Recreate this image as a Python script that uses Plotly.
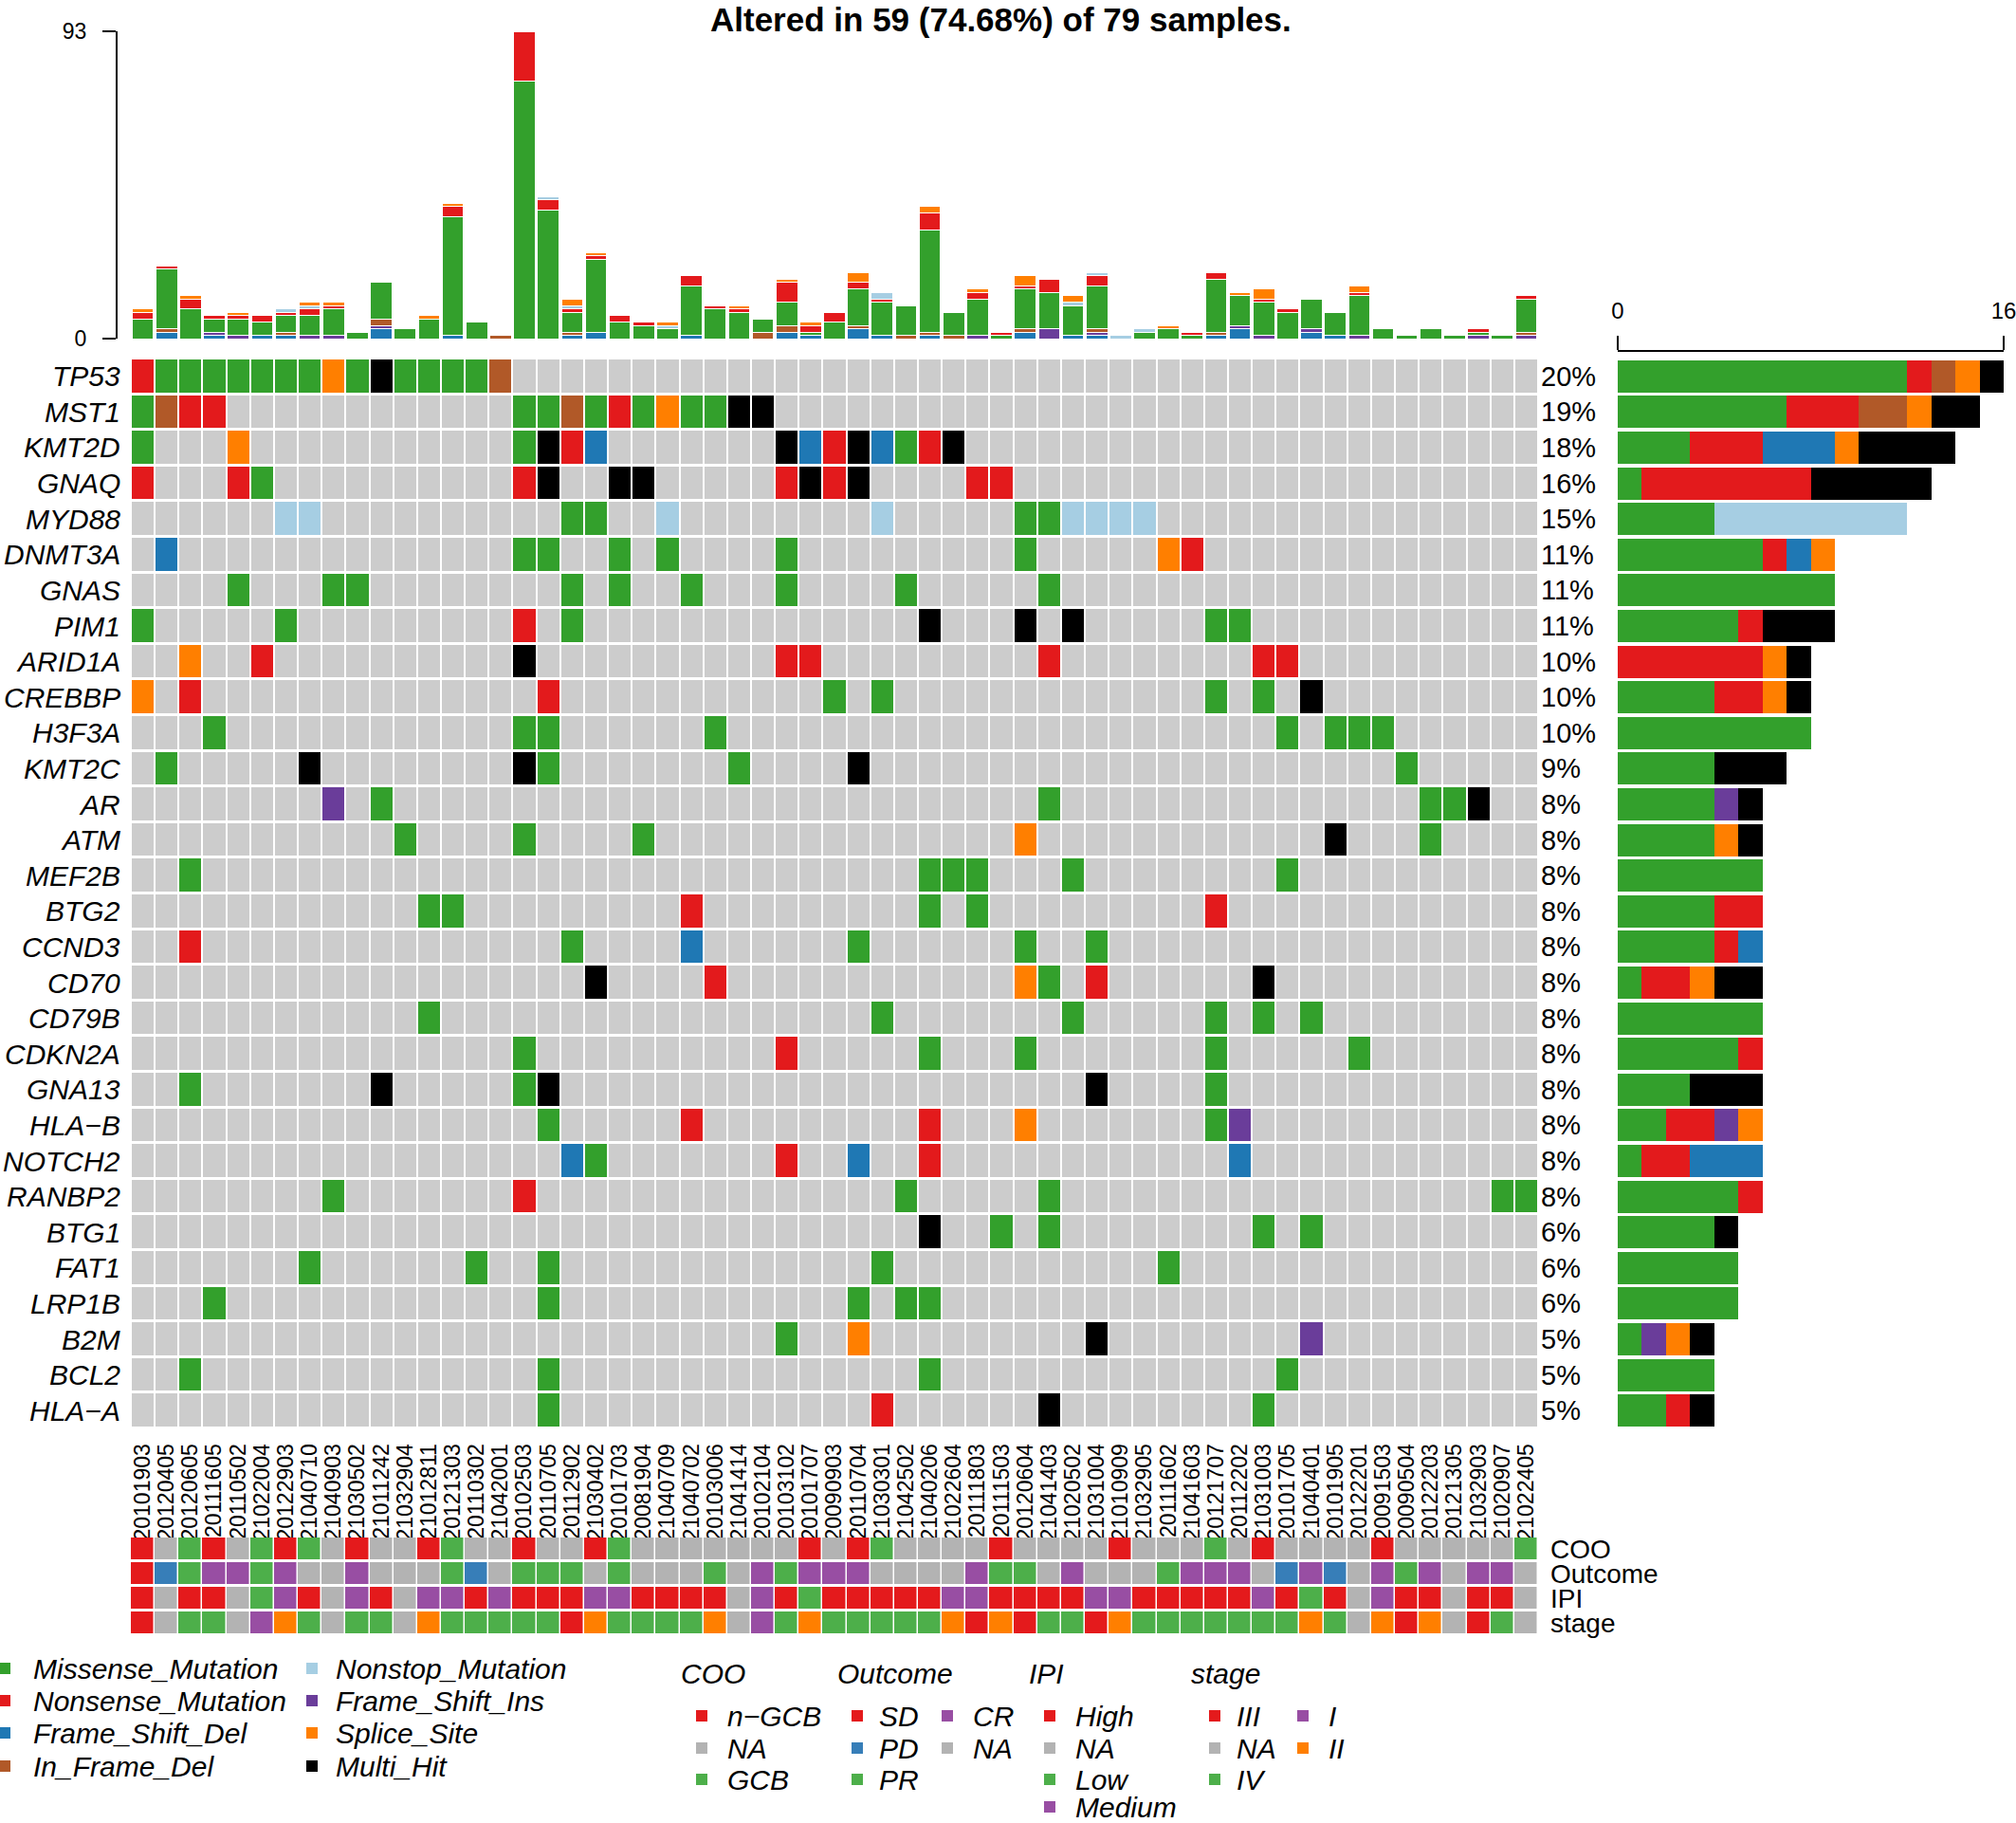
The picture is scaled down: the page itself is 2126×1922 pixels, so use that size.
import plotly.graph_objects as go

W, H = 2126, 1922
FONT = "Liberation Sans, Arial, Helvetica, sans-serif"
TOTAL_SAMPLES = 79

# ---- data ----------------------------------------------------------------
samples = [
    "20101903", "20120405", "20120605", "20111605", "20110502", "21022004",
    "20122903", "21040710", "21040903", "21030502", "21011242", "21032904",
    "21012811", "20121303", "20110302", "21042001", "20102503", "20110705",
    "20112902", "21030402", "20101703", "20081904", "21040709", "21040702",
    "20103006", "21041414", "20102104", "20103102", "20101707", "20090903",
    "20110704", "21030301", "21042502", "21040206", "21022604", "20111803",
    "20111503", "20120604", "21041403", "21020502", "21031004", "21010909",
    "21032905", "20111602", "21041603", "20121707", "20112202", "21031003",
    "20101705", "21040401", "20101905", "20122201", "20091503", "20090504",
    "20122203", "20121305", "21032903", "21020907", "21022405",
]

genes = [
    "TP53", "MST1", "KMT2D", "GNAQ", "MYD88", "DNMT3A", "GNAS", "PIM1",
    "ARID1A", "CREBBP", "H3F3A", "KMT2C", "AR", "ATM", "MEF2B", "BTG2",
    "CCND3", "CD70", "CD79B", "CDKN2A", "GNA13", "HLA-B", "NOTCH2", "RANBP2",
    "BTG1", "FAT1", "LRP1B", "B2M", "BCL2", "HLA-A",
]

# sample index + variant code  (M missense, N nonsense, D frame-shift del,
# I in-frame del, T nonstop, F frame-shift ins, S splice site, X multi hit)
gene_hits = [
    "0N 1M 2M 3M 4M 5M 6M 7M 8S 9M 10X 11M 12M 13M 14M 15I",
    "0M 1I 2N 3N 16M 17M 18I 19M 20N 21M 22S 23M 24M 25X 26X",
    "0M 4S 16M 17X 18N 19D 27X 28D 29N 30X 31D 32M 33N 34X",
    "0N 4N 5M 16N 17X 20X 21X 27N 28X 29N 30X 35N 36N",
    "6T 7T 18M 19M 22T 31T 37M 38M 39T 40T 41T 42T",
    "1D 16M 17M 20M 22M 27M 37M 43S 44N",
    "4M 8M 9M 18M 20M 23M 27M 32M 38M",
    "0M 6M 16N 18M 33X 37X 39X 45M 46M",
    "2S 5N 16X 27N 28N 38N 47N 48N",
    "0S 2N 17N 29M 31M 45M 47M 49X",
    "3M 16M 17M 24M 48M 50M 51M 52M",
    "1M 7X 16X 17M 25M 30X 53M",
    "8F 10M 38M 54M 55M 56X",
    "11M 16M 21M 37S 50X 54M",
    "2M 33M 34M 35M 39M 48M",
    "12M 13M 23N 33M 35M 45N",
    "2N 18M 23D 30M 37M 40M",
    "19X 24N 37S 38M 40N 47X",
    "12M 31M 39M 45M 47M 49M",
    "16M 27N 33M 37M 45M 51M",
    "2M 10X 16M 17X 40X 45M",
    "17M 23N 33N 37S 45M 46F",
    "18D 19M 27N 30D 33N 46D",
    "8M 16N 32M 38M 57M 58M",
    "33X 36M 38M 47M 49M",
    "7M 14M 17M 31M 43M",
    "3M 17M 30M 32M 33M",
    "27M 30S 40X 49F",
    "2M 17M 33M 48M",
    "17M 31N 38X 47M",
]

# mutations per sample (top bar plot), by class
tmb_frame_shift_del = [0, 2, 0, 1, 0, 1, 1, 0, 0, 0, 3, 0, 0, 1, 0, 0, 0, 0, 1, 2,
                       0, 0, 0, 1, 0, 0, 0, 2, 1, 0, 3, 1, 0, 1, 0, 0, 0, 2, 0, 1,
                       1, 0, 0, 0, 0, 1, 3, 0, 0, 2, 1, 0, 0, 0, 0, 0, 0, 0, 0]
tmb_frame_shift_ins = [0, 0, 0, 1, 1, 0, 0, 1, 1, 0, 1, 0, 0, 0, 0, 0, 0, 0, 0, 0,
                       0, 0, 0, 0, 0, 0, 0, 0, 0, 0, 0, 0, 0, 0, 0, 1, 0, 0, 3, 0,
                       1, 0, 0, 0, 0, 0, 1, 1, 0, 1, 0, 1, 0, 0, 0, 0, 1, 0, 1]
tmb_in_frame_del = [0, 1, 0, 0, 0, 0, 1, 0, 0, 0, 2, 0, 0, 0, 0, 1, 0, 0, 1, 0,
                    0, 0, 0, 0, 0, 0, 2, 2, 0, 0, 1, 0, 1, 1, 1, 0, 0, 1, 0, 0,
                    1, 0, 0, 0, 0, 1, 0, 0, 0, 0, 0, 0, 0, 0, 0, 0, 0, 0, 1]
tmb_missense = [6, 18, 9, 4, 5, 4, 5, 6, 8, 2, 11, 3, 6, 36, 5, 0, 78, 39, 6, 22,
                5, 4, 3, 15, 9, 8, 4, 7, 1, 5, 11, 10, 9, 31, 7, 11, 1, 12, 11, 9,
                13, 0, 2, 3, 1, 16, 9, 10, 8, 9, 7, 12, 3, 1, 3, 1, 1, 1, 10]
tmb_nonsense = [2, 1, 3, 1, 1, 2, 1, 2, 1, 0, 0, 0, 0, 3, 0, 0, 15, 3, 1, 1,
                2, 1, 0, 3, 1, 1, 0, 6, 2, 3, 2, 1, 0, 5, 0, 2, 1, 1, 4, 0,
                3, 0, 0, 0, 1, 2, 0, 1, 1, 0, 0, 1, 0, 0, 0, 0, 1, 0, 1]
tmb_nonstop = [0, 0, 0, 0, 0, 0, 1, 1, 0, 0, 0, 0, 0, 0, 0, 0, 0, 1, 1, 0,
               0, 0, 1, 0, 0, 0, 0, 0, 0, 0, 0, 2, 0, 0, 0, 0, 0, 0, 0, 1,
               1, 1, 1, 0, 0, 0, 0, 0, 0, 0, 0, 0, 0, 0, 0, 0, 0, 0, 0]
tmb_splice_site = [1, 0, 1, 0, 1, 0, 0, 1, 1, 0, 0, 0, 1, 1, 0, 0, 0, 0, 2, 1,
                   0, 0, 1, 0, 0, 1, 0, 1, 1, 0, 3, 0, 0, 2, 0, 1, 0, 3, 0, 2,
                   0, 0, 0, 1, 0, 0, 1, 3, 0, 0, 0, 2, 0, 0, 0, 0, 0, 0, 0]

# clinical annotation tracks
coo = ["n-GCB", "NA", "GCB", "n-GCB", "NA", "GCB", "n-GCB", "GCB", "NA", "n-GCB",
       "NA", "NA", "n-GCB", "GCB", "NA", "NA", "n-GCB", "NA", "NA", "n-GCB",
       "GCB", "NA", "NA", "NA", "NA", "NA", "NA", "NA", "n-GCB", "NA",
       "n-GCB", "GCB", "NA", "NA", "NA", "NA", "n-GCB", "NA", "NA", "NA",
       "NA", "n-GCB", "NA", "NA", "NA", "GCB", "NA", "n-GCB", "NA", "NA",
       "NA", "NA", "n-GCB", "NA", "NA", "NA", "NA", "NA", "GCB"]
outcome = ["SD", "PD", "PR", "CR", "CR", "PR", "CR", "NA", "NA", "CR",
           "NA", "NA", "NA", "PR", "PD", "NA", "PR", "PR", "PR", "NA",
           "PR", "NA", "NA", "NA", "PR", "NA", "CR", "PR", "CR", "CR",
           "CR", "NA", "NA", "NA", "NA", "CR", "PR", "PR", "NA", "CR",
           "NA", "NA", "NA", "PR", "CR", "CR", "CR", "NA", "PD", "CR",
           "PD", "NA", "CR", "PR", "CR", "NA", "CR", "CR", "NA"]
ipi = ["High", "NA", "High", "High", "NA", "Low", "Medium", "High", "NA", "Medium",
       "High", "NA", "Medium", "Medium", "High", "Medium", "High", "High", "High", "Medium",
       "Medium", "High", "High", "High", "High", "NA", "Medium", "High", "Low", "High",
       "High", "High", "High", "High", "Medium", "Medium", "High", "High", "High", "High",
       "Medium", "Medium", "High", "High", "High", "High", "High", "Medium", "High", "Low",
       "High", "NA", "Medium", "High", "High", "NA", "High", "High", "NA"]
stage = ["III", "NA", "IV", "IV", "NA", "I", "II", "IV", "NA", "IV",
         "IV", "NA", "II", "IV", "IV", "IV", "IV", "IV", "III", "II",
         "IV", "IV", "IV", "IV", "II", "NA", "I", "IV", "II", "IV",
         "IV", "IV", "IV", "IV", "II", "III", "II", "III", "IV", "IV",
         "III", "II", "IV", "IV", "IV", "IV", "IV", "IV", "IV", "II",
         "IV", "NA", "II", "III", "II", "NA", "III", "IV", "NA"]

# ---- styling -------------------------------------------------------------
vc_names = ["Missense_Mutation", "Nonsense_Mutation", "Frame_Shift_Del", "In_Frame_Del",
            "Nonstop_Mutation", "Frame_Shift_Ins", "Splice_Site", "Multi_Hit"]
vc_codes = ["M", "N", "D", "I", "T", "F", "S", "X"]
vc_colors = ["#33A02C", "#E31A1C", "#1F78B4", "#B15928",
             "#A6CEE3", "#6A3D9A", "#FF7F00", "#000000"]
vc_color = dict(zip(vc_codes, vc_colors))
BG = "#CCCCCC"

RED, BLUE, GREEN, PURPLE, ORANGE, NAGRAY = (
    "#E41A1C", "#377EB8", "#4DAF4A", "#984EA3", "#FF7F00", "#B3B3B3")
tracks = [
    ("COO", coo, {"n-GCB": RED, "NA": NAGRAY, "GCB": GREEN}),
    ("Outcome", outcome, {"SD": RED, "PD": BLUE, "PR": GREEN, "CR": PURPLE, "NA": NAGRAY}),
    ("IPI", ipi, {"High": RED, "NA": NAGRAY, "Low": GREEN, "Medium": PURPLE}),
    ("stage", stage, {"III": RED, "NA": NAGRAY, "IV": GREEN, "I": PURPLE, "II": ORANGE}),
]


def px(x):
    return x / W


def py(y):
    return 1 - y / H


def discrete_scale(colors):
    n = len(colors)
    scale = []
    for k, c in enumerate(colors):
        scale += [[k / n, c], [(k + 1) / n, c]]
    return scale


n_s, n_g = len(samples), len(genes)
cols = list(range(n_s))

# oncoplot matrix
z = [[0] * n_s for _ in genes]
per_gene = []
for gi, row in enumerate(gene_hits):
    counts = dict.fromkeys(vc_codes, 0)
    for item in row.split():
        col, code = int(item[:-1]), item[-1]
        z[gi][col] = vc_codes.index(code) + 1
        counts[code] += 1
    per_gene.append(counts)

fig = go.Figure()

grid_colors = [BG] + vc_colors
fig.add_trace(go.Heatmap(
    x=cols, y=list(range(n_g)), z=z, zmin=-0.5, zmax=len(grid_colors) - 0.5,
    colorscale=discrete_scale(grid_colors), showscale=False,
    xgap=2, ygap=3, hoverinfo="skip", xaxis="x", yaxis="y",
))

# top bar: mutations per sample
tmb_stack = [
    ("D", tmb_frame_shift_del), ("F", tmb_frame_shift_ins), ("I", tmb_in_frame_del),
    ("M", tmb_missense), ("N", tmb_nonsense), ("T", tmb_nonstop), ("S", tmb_splice_site),
]
for code, vals in tmb_stack:
    fig.add_trace(go.Bar(
        x=cols, y=vals, width=0.9, marker_color=vc_color[code],
        marker_line=dict(color="white", width=1), hoverinfo="skip",
        xaxis="x", yaxis="y2", showlegend=False,
    ))

# right bar: mutations per gene
for code in vc_codes:
    fig.add_trace(go.Bar(
        x=[c[code] for c in per_gene], y=list(range(n_g)), orientation="h",
        width=0.9, marker_color=vc_color[code], marker_line_width=0,
        hoverinfo="skip", xaxis="x2", yaxis="y", showlegend=False,
    ))

# annotation tracks
track_palette = [NAGRAY, RED, BLUE, GREEN, PURPLE, ORANGE]
z_tr = []
for name, values, cmap in tracks:
    z_tr.append([track_palette.index(cmap[v]) for v in values])
fig.add_trace(go.Heatmap(
    x=cols, y=list(range(len(tracks))), z=z_tr, zmin=-0.5,
    zmax=len(track_palette) - 0.5, colorscale=discrete_scale(track_palette),
    showscale=False, xgap=1.5, ygap=3, hoverinfo="skip", xaxis="x", yaxis="y3",
))

GRID_L, GRID_R = 138, 1622
common = dict(showgrid=False, zeroline=False, fixedrange=True, automargin=False)
fig.update_layout(
    width=W, height=H, autosize=False,
    margin=dict(l=0, r=0, t=0, b=0, pad=0, autoexpand=False),
    paper_bgcolor="white", plot_bgcolor="white",
    barmode="stack", showlegend=False,
    font=dict(family=FONT, color="black"),
    xaxis=dict(domain=[px(GRID_L), px(GRID_R)], range=[-0.5, n_s - 0.5], anchor="y",
               tickvals=cols, ticktext=samples, tickangle=-90,
               tickfont=dict(size=23), ticks="outside", ticklen=6,
               tickcolor="rgba(0,0,0,0)", showline=False, **common),
    yaxis=dict(domain=[py(1506), py(378)], range=[n_g - 0.5, -0.5], anchor="x",
               showticklabels=False, **common),
    yaxis2=dict(domain=[py(357), py(33)], range=[0, 93], anchor="free",
                position=px(123), showline=True, linecolor="black", linewidth=2,
                ticks="outside", ticklen=14, tickwidth=2, tickcolor="black",
                ticklabelstandoff=12, tickvals=[0, 93], tickfont=dict(size=23),
                **common),
    yaxis3=dict(domain=[py(1724), py(1620)], range=[len(tracks) - 0.5, -0.5],
                anchor="x", showticklabels=False, **common),
    xaxis2=dict(domain=[px(1706), px(2113)], range=[0, 16], anchor="free",
                position=py(370), side="top", showline=True, linecolor="black",
                linewidth=2, ticks="outside", ticklen=15, tickwidth=2,
                tickcolor="black", ticklabelstandoff=8, ticklabeloverflow="allow",
                tickvals=[0, 16], tickfont=dict(size=24), **common),
)

ann = []
n_alt = sum(1 for c in cols if any(z[g][c] for g in range(n_g)))
ann.append(dict(
    text=f"<b>Altered in {n_alt} ({n_alt / TOTAL_SAMPLES * 100:.2f}%) of {TOTAL_SAMPLES} samples.</b>",
    x=px(1055), y=py(20), xref="paper", yref="paper", xanchor="center", yanchor="middle",
    showarrow=False, font=dict(size=35),
))
for gi, g in enumerate(genes):
    n_mut = sum(per_gene[gi].values())
    ann.append(dict(text=f"<i>{g.replace('-', '−')}</i>", x=px(129), y=gi,
                    xref="paper", yref="y", xanchor="right", yanchor="middle",
                    showarrow=False, font=dict(size=30)))
    ann.append(dict(text=f"{round(n_mut / TOTAL_SAMPLES * 100)}%", x=px(1623), y=gi,
                    xref="paper", yref="y", xanchor="left", yanchor="middle",
                    showarrow=False, font=dict(size=29)))
for ti, (name, _, _) in enumerate(tracks):
    ann.append(dict(text=name, x=px(1633), y=ti, xref="paper", yref="y3",
                    xanchor="left", yanchor="middle", showarrow=False,
                    font=dict(size=28)))

shapes = []


def legend_item(sx, tx, y, color, label):
    shapes.append(dict(type="rect", xref="paper", yref="paper",
                       x0=px(sx - 6), x1=px(sx + 6), y0=py(y + 6), y1=py(y - 6),
                       fillcolor=color, line_width=0))
    ann.append(dict(text=f"<i>{label}</i>", x=px(tx), y=py(y), xref="paper",
                    yref="paper", xanchor="left", yanchor="middle",
                    showarrow=False, font=dict(size=30)))


rows_mut = [1759, 1793, 1827, 1862]
for k in range(8):
    sx, tx = (5, 33) if k < 4 else (329, 352)
    legend_item(sx, tx, rows_mut[k % 4], vc_colors[k], vc_names[k])

rows_ann = [1809, 1843, 1876, 1905]
layout_ann = [
    ("COO", 716, [(740, 765, ["n-GCB", "NA", "GCB"])]),
    ("Outcome", 881, [(904, 925, ["SD", "PD", "PR"]), (999, 1024, ["CR", "NA"])]),
    ("IPI", 1083, [(1107, 1132, ["High", "NA", "Low", "Medium"])]),
    ("stage", 1254, [(1281, 1302, ["III", "NA", "IV"]), (1374, 1399, ["I", "II"])]),
]
for (title, tx0, groups), (_, _, cmap) in zip(layout_ann, tracks):
    ann.append(dict(text=f"<i>{title}</i>", x=px(tx0), y=py(1764), xref="paper",
                    yref="paper", xanchor="left", yanchor="middle",
                    showarrow=False, font=dict(size=30)))
    for sx, tx, labels in groups:
        for r, lab in enumerate(labels):
            legend_item(sx, tx, rows_ann[r], cmap[lab], lab.replace("-", "−"))

fig.update_layout(annotations=ann, shapes=shapes)
fig.write_html("out.html", config={"displayModeBar": False},
               post_script="document.body.style.margin='0px';")
